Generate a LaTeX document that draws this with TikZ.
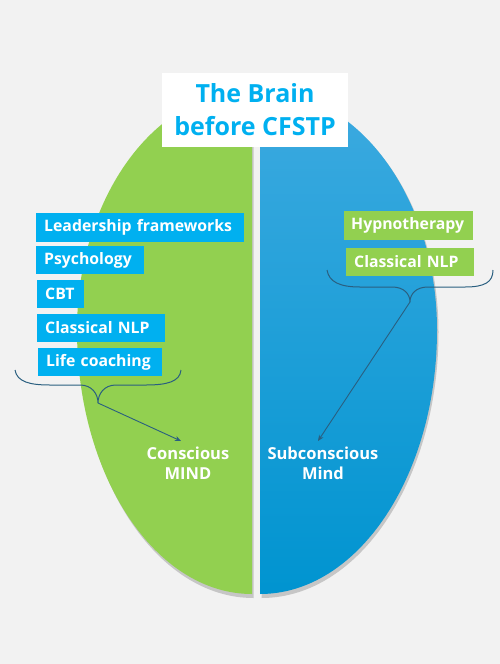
\documentclass[tikz,border=0pt]{standalone}
\usepackage{fontspec}
\setmainfont{Open Sans}
\usetikzlibrary{arrows.meta}
\definecolor{bg}{HTML}{F2F2F2}
\definecolor{lgreen}{HTML}{92D050}
\definecolor{cyanbox}{HTML}{00B0F0}
\definecolor{bluetop}{HTML}{3DAAE0}
\definecolor{bluebot}{HTML}{0094D0}
\definecolor{bracec}{HTML}{2A5F80}
\tikzset{
  tagbox/.style={text=white, font=\fontsize{15.8}{18}\selectfont\bfseries, anchor=north west, inner sep=0pt, minimum height=28.5pt, align=left},
  lbox/.style={tagbox, fill=cyanbox},
  rbox/.style={tagbox, fill=lgreen},
  mindtext/.style={text=white, font=\fontsize{16.5}{20}\selectfont\bfseries, align=center},
  bracepath/.style={draw=bracec, line width=1pt},
  arr/.style={draw=bracec, line width=0.9pt, -{Stealth[length=6pt,width=5pt]}},
}
\begin{document}
\begin{tikzpicture}[x=1pt,y=-1pt]
\useasboundingbox (0,0) rectangle (500,664);
\fill[bg] (0,0) rectangle (500,664);
% shadows
\fill[black, opacity=0.18] (253.5,92) arc[start angle=270,end angle=180,x radius=175,y radius=240] arc[start angle=180,end angle=90,x radius=175,y radius=266] -- cycle;
\fill[black, opacity=0.18] (261.5,92) arc[start angle=-90,end angle=0,x radius=177,y radius=240] arc[start angle=0,end angle=90,x radius=177,y radius=266] -- cycle;
% halves
\fill[lgreen] (252,90) arc[start angle=270,end angle=180,x radius=175,y radius=240] arc[start angle=180,end angle=90,x radius=175,y radius=264] -- cycle;
\shade[top color=bluetop, bottom color=bluebot] (260,90) arc[start angle=-90,end angle=0,x radius=177,y radius=240] arc[start angle=0,end angle=90,x radius=177,y radius=264] -- cycle;
% title
\node[fill=white, minimum width=186pt, minimum height=74pt, text=cyanbox, align=center, font=\fontsize{25}{33}\selectfont\bfseries, inner sep=0pt] (title) at (255,110) {The Brain\\before CFSTP};
% left boxes
\node[lbox, text width=208pt] (lead) at (36,213) {\hspace*{8pt}Leadership frameworks};
\node[lbox, text width=108pt] (psy) at (36,245.5) {\hspace*{8pt}Psychology};
\node[lbox, text width=47pt] (cbt) at (37,279.5) {\hspace*{8pt}CBT};
\node[lbox, text width=128pt] (cnlpl) at (37,313.5) {\hspace*{8pt}Classical NLP};
\node[lbox, text width=124pt] (life) at (38,347.5) {\hspace*{8pt}Life coaching};
% right boxes
\node[rbox, text width=129pt] (hyp) at (344,211) {\hspace*{7pt}Hypnotherapy};
\node[rbox, text width=128pt] (cnlpr) at (346,247.5) {\hspace*{8pt}Classical NLP};
% mind labels
\node[mindtext] (consc) at (188,463) {Conscious\\MIND};
\node[mindtext] (subc) at (323,463) {Subconscious\\Mind};
% braces
\coordinate (ltip) at (98,403);
\coordinate (rtip) at (410,302);
\coordinate (larr) at (181,441);
\coordinate (rarr) at (318,441);
\draw[bracepath] (15,370) .. controls (17,382) and (30,385) .. (50,385) -- (80,385) .. controls (92,385) and (98,394) .. (ltip) .. controls (98,394) and (104,385) .. (116,385) -- (146,385) .. controls (166,385) and (180,382) .. (181,370);
\draw[bracepath] (327,270) .. controls (329,282) and (340,287) .. (360,287) -- (392,287) .. controls (404,287) and (410,294) .. (rtip) .. controls (410,294) and (416,287) .. (428,287) -- (465,287) .. controls (485,287) and (493,282) .. (493,270);
\draw[arr] (ltip) -- (larr);
\draw[arr] (rtip) -- (rarr);
\end{tikzpicture}
\end{document}
